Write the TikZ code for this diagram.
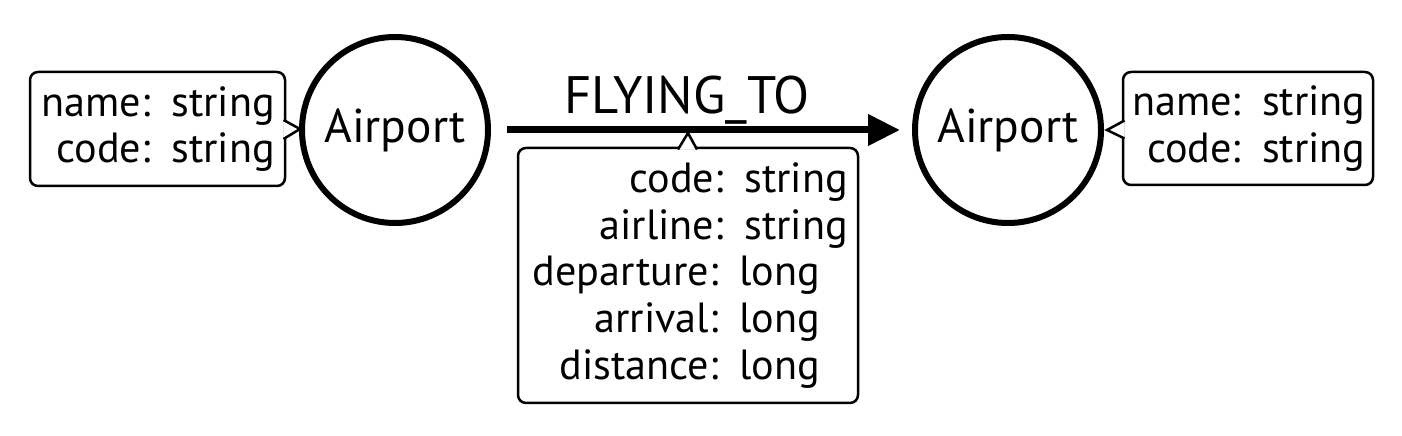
\documentclass[tikz,border=0pt]{standalone}
\usepackage{fontspec}
\setmainfont{PT Sans}
\usetikzlibrary{arrows.meta,calc}
\newcommand\lgap{\makebox[2.8mm]{}}
\tikzset{
	entity/.style={draw, circle, line width=0.6mm, minimum size=18.6mm, inner sep=0pt, font=\fontsize{13.5}{14}\selectfont},
	props/.style={draw, rounded corners=0.8mm, line width=0.25mm, outer sep=0pt, inner sep=0pt, inner xsep=1mm, align=right, font=\fontsize{12}{13.3}\selectfont},
	pointer/.style={line width=0.25mm, fill=white, line join=miter},
}

\begin{document}
\begin{tikzpicture}[x=0.1mm, y=-0.1mm]
		%%%%% START %%%%%
		\useasboundingbox (0, 0) rectangle (1402, 436);
		
		\node[entity] (src) at (395, 130) {Airport};
		\node[entity] (dst) at (1008, 130) {Airport};
		
		\node[props, text width=23.5mm, minimum height=11.4mm] (srcprops) at (157.5, 129) {name: string\\code: string};
		\node[props, text width=23.5mm, inner xsep=0.75mm, minimum height=11.3mm] (dstprops) at (1248, 128.5) {name: string\\code: string};
		\node[props, text width=32mm, minimum height=25.5mm] (relprops) at (688, 275.5) {code: string\\airline: string\\departure: long\lgap\\arrival: long\lgap\\distance: long\lgap};
		
		\draw[line width=0.7mm, -{Triangle[length=3.2mm, width=3mm]}, shorten <=1.6mm, shorten >=1.2mm] (src) -- (dst);
		\node[font=\fontsize{15}{16}\selectfont] (rel) at (687, 100) {FLYING\_TO};
		
		\draw[pointer] ($(srcprops.east)+(-1.5, -9)$) -- (300, 129) -- ($(srcprops.east)+(-1.5, 10)$);
		\draw[pointer] ($(dstprops.west)+(1.5, -8)$) -- (1107, 130) -- ($(dstprops.west)+(1.5, 10)$);
		\draw[pointer] ($(relprops.north)+(-10, 1.5)$) -- (688, 133) -- ($(relprops.north)+(9, 1.5)$);
		%%%%% END %%%%%
	\end{tikzpicture}
\end{document}
